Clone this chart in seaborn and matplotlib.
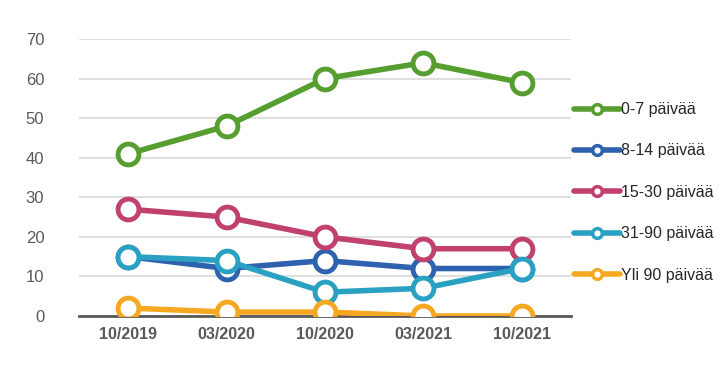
import pandas as pd
import numpy as np
import seaborn as sns
import matplotlib.pyplot as plt
from matplotlib.lines import Line2D

periods = ['10/2019', '03/2020', '10/2020', '03/2021', '10/2021']
groups = ['0-7 päivää', '8-14 päivää', '15-30 päivää', '31-90 päivää', 'Yli 90 päivää']
v_0_7 = [41, 48, 60, 64, 59]
v_8_14 = [15, 12, 14, 12, 12]
v_15_30 = [27, 25, 20, 17, 17]
v_31_90 = [15, 14, 6, 7, 12]
v_yli_90 = [2, 1, 1, 0, 0]
colors = ['#559E2F', '#2F62AE', '#C0406E', '#2AA1C2', '#F7A823']

df = pd.DataFrame({
    'period': periods * 5,
    'group': np.repeat(groups, len(periods)),
    'value': v_0_7 + v_8_14 + v_15_30 + v_31_90 + v_yli_90,
})
df['x'] = df['period'].map({p: i for i, p in enumerate(periods)})

sns.set_style('white')
plt.rcParams['font.family'] = ['Liberation Sans', 'DejaVu Sans']

fig = plt.figure(figsize=(7.28, 3.83), dpi=100)
ax = fig.add_axes([0.1085, 0.175, 0.6755, 0.723])

for i, (g, c) in enumerate(zip(groups, colors)):
    sns.lineplot(data=df[df['group'] == g], x='x', y='value', color=c, lw=4,
                 marker='o', markersize=15, markerfacecolor='white',
                 markeredgecolor=c, markeredgewidth=3.5, ax=ax,
                 zorder=3 + i, legend=False)

ax.set_xlim(-0.5, 4.5)
ax.set_ylim(0, 70)
ax.set_yticks(range(0, 71, 10))
ax.set_xticks(range(len(periods)))
ax.set_xticklabels(periods, fontweight='bold', fontsize=11.5, color='#595959')
ax.tick_params(axis='y', labelsize=12, labelcolor='#595959', length=0, pad=25)
ax.tick_params(axis='x', length=0, pad=8)
ax.grid(axis='y', color='#D9D9D9', lw=1.2)
ax.set_axisbelow(True)
for s in ['top', 'right', 'left']:
    ax.spines[s].set_visible(False)
ax.spines['bottom'].set_color('#595959')
ax.spines['bottom'].set_linewidth(2)
ax.spines['bottom'].set_zorder(2.5)
ax.set_xlabel('')
ax.set_ylabel('')

handles = [Line2D([0], [0], color=c, lw=4, marker='o', markersize=7,
                  markerfacecolor='white', markeredgecolor=c, markeredgewidth=2.5)
           for c in colors]
fig.legend(handles, groups, loc='upper left', bbox_to_anchor=(0.779, 0.75),
           frameon=False, fontsize=11.5, handlelength=2.9, labelspacing=1.65,
           handletextpad=0.1, borderaxespad=0)

fig.savefig('out.png', dpi=100)
